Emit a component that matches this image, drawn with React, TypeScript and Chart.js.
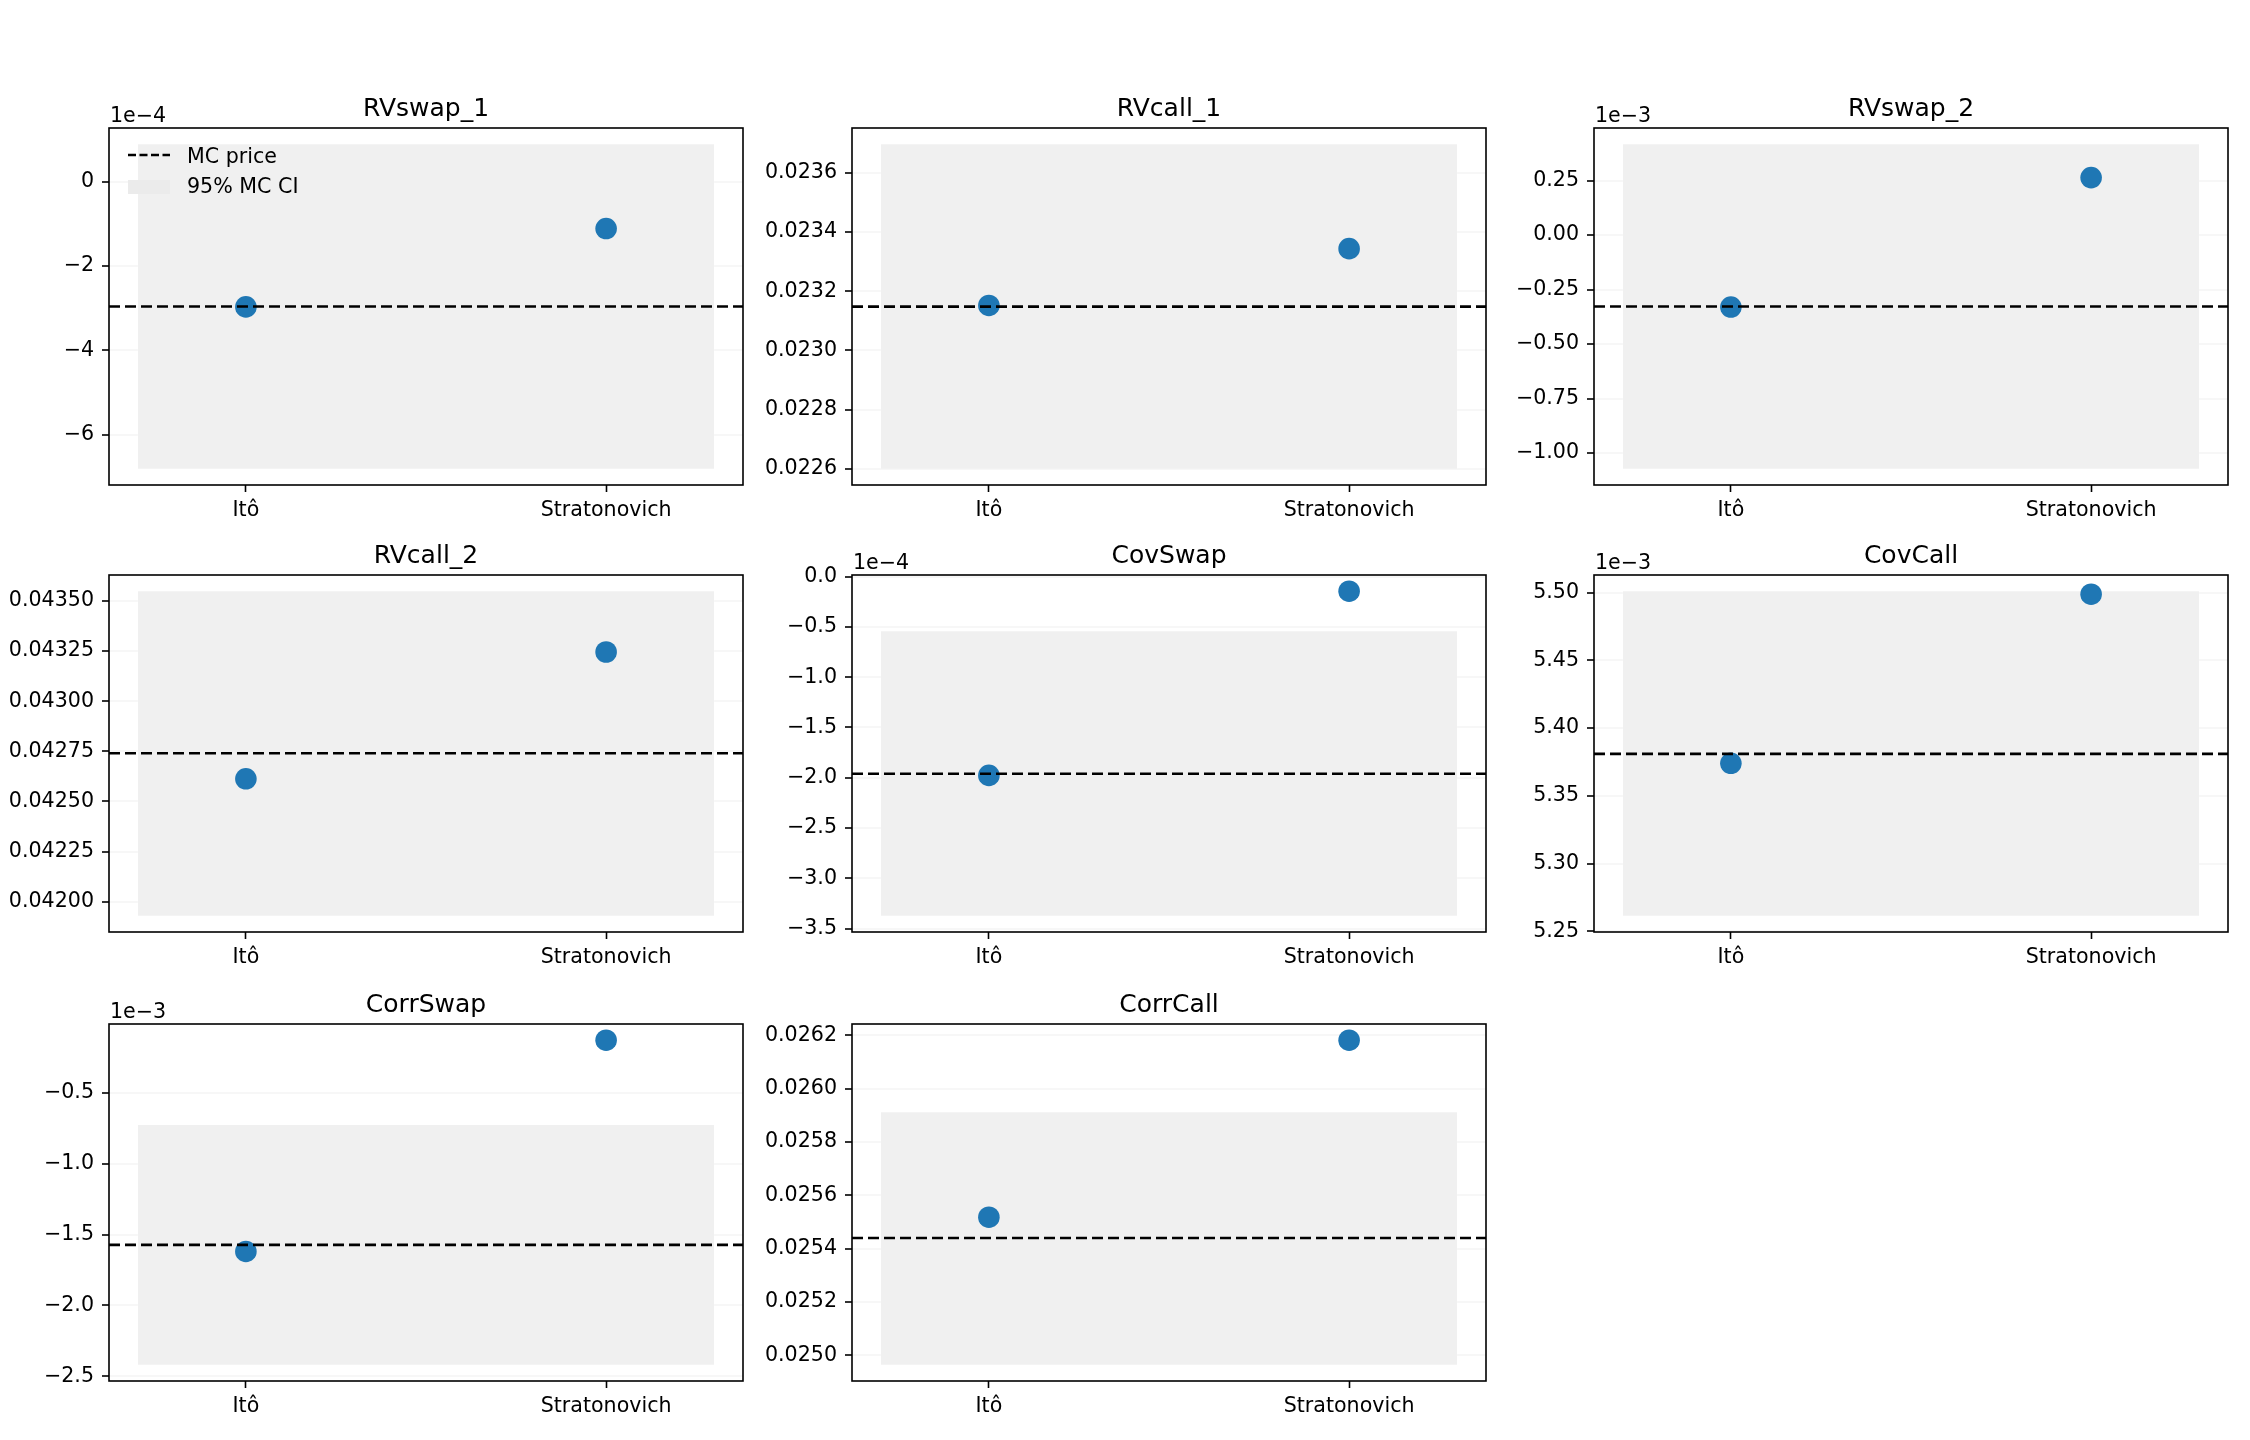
import React, { useEffect, useRef } from 'react';
import { Chart, registerables } from 'chart.js';

Chart.register(...registerables);

// ---------------- data ----------------
const titles = ['RVswap_1', 'RVcall_1', 'RVswap_2', 'RVcall_2', 'CovSwap', 'CovCall', 'CorrSwap', 'CorrCall'];
const categories = ['Itô', 'Stratonovich'];
const categoryX = [0, 1];
const bandX = [-0.3, 1.3];

const itoValues = [-2.97e-4, 0.023152, -0.330e-3, 0.042613, -1.977e-4, 5.374e-3, -1.619e-3, 0.025518];
const stratValues = [-1.11e-4, 0.023344, 0.264e-3, 0.043245, -0.145e-4, 5.4988e-3, -0.130e-3, 0.026181];
const mcPrices = [-2.96e-4, 0.023148, -0.3275e-3, 0.04274, -1.96e-4, 5.381e-3, -1.573e-3, 0.02544];
const ciLow = [-6.81e-4, 0.0226, -1.072e-3, 0.04193, -3.373e-4, 5.2615e-3, -2.418e-3, 0.024965];
const ciHigh = [0.89e-4, 0.023697, 0.417e-3, 0.043548, -0.544e-4, 5.501e-3, -0.728e-3, 0.025911];

const offsetTexts = ['1e\u22124', '', '1e\u22123', '', '1e\u22124', '1e\u22123', '1e\u22123', ''];

const yTickValues = [
  [0, -2e-4, -4e-4, -6e-4],
  [0.0226, 0.0228, 0.023, 0.0232, 0.0234, 0.0236],
  [-1e-3, -0.75e-3, -0.5e-3, -0.25e-3, 0, 0.25e-3],
  [0.042, 0.04225, 0.0425, 0.04275, 0.043, 0.04325, 0.0435],
  [-3.5e-4, -3.0e-4, -2.5e-4, -2.0e-4, -1.5e-4, -1.0e-4, -0.5e-4, 0],
  [5.25e-3, 5.3e-3, 5.35e-3, 5.4e-3, 5.45e-3, 5.5e-3],
  [-2.5e-3, -2.0e-3, -1.5e-3, -1.0e-3, -0.5e-3],
  [0.025, 0.0252, 0.0254, 0.0256, 0.0258, 0.026, 0.0262],
];
const yTickLabels = [
  ['0', '\u22122', '\u22124', '\u22126'],
  ['0.0226', '0.0228', '0.0230', '0.0232', '0.0234', '0.0236'],
  ['\u22121.00', '\u22120.75', '\u22120.50', '\u22120.25', '0.00', '0.25'],
  ['0.04200', '0.04225', '0.04250', '0.04275', '0.04300', '0.04325', '0.04350'],
  ['\u22123.5', '\u22123.0', '\u22122.5', '\u22122.0', '\u22121.5', '\u22121.0', '\u22120.5', '0.0'],
  ['5.25', '5.30', '5.35', '5.40', '5.45', '5.50'],
  ['\u22122.5', '\u22122.0', '\u22121.5', '\u22121.0', '\u22120.5'],
  ['0.0250', '0.0252', '0.0254', '0.0256', '0.0258', '0.0260', '0.0262'],
];
const legendLabels = ['MC price', '95% MC CI'];

// ---------------- layout / style ----------------
const FIG_W = 2250;
const FIG_H = 1440;
const COL_LEFTS = [109, 852, 1594];
const ROW_TOPS = [128, 575, 1024];
const AX_W = 634;
const AX_H = 357;
const PAD_L = 109;
const PAD_T = 60;
const PAD_B = 60;
const PAD_R = 20;
const FONT = '"DejaVu Sans", "Liberation Sans", sans-serif';
const TICK_SIZE = 20.6;
const TITLE_SIZE = 25;
const BAND_COLOR = '#f0f0f0';
const POINT_COLOR = '#1f77b4';

function autoLimits(vals: number[], margin = 0.05): [number, number] {
  const lo = Math.min(...vals);
  const hi = Math.max(...vals);
  const r = hi - lo;
  return [lo - margin * r, hi + margin * r];
}

function Panel({ i }: { i: number }) {
  const ref = useRef<HTMLCanvasElement>(null);
  const col = i % 3;
  const row = Math.floor(i / 3);
  const left = COL_LEFTS[col] - PAD_L;
  const top = ROW_TOPS[row] - PAD_T;
  const w = PAD_L + AX_W + PAD_R;
  const h = PAD_T + AX_H + PAD_B;

  useEffect(() => {
    const [xMin, xMax] = autoLimits(bandX);
    const [yMin, yMax] = autoLimits([ciLow[i], ciHigh[i], itoValues[i], stratValues[i]]);

    const decor = {
      id: 'decor' + i,
      afterDatasetsDraw(chart: any) {
        const { ctx, chartArea: a } = chart;
        ctx.save();
        // frame (all four spines)
        ctx.strokeStyle = '#000';
        ctx.lineWidth = 1.6;
        ctx.setLineDash([]);
        ctx.strokeRect(a.left, a.top, a.right - a.left, a.bottom - a.top);
        // title
        ctx.fillStyle = '#000';
        ctx.font = `${TITLE_SIZE}px ${FONT}`;
        ctx.textAlign = 'center';
        ctx.textBaseline = 'alphabetic';
        ctx.fillText(titles[i], (a.left + a.right) / 2, a.top - 12);
        // offset text
        if (offsetTexts[i]) {
          ctx.font = `${TICK_SIZE}px ${FONT}`;
          ctx.textAlign = 'left';
          ctx.fillText(offsetTexts[i], a.left + 1, a.top - 6);
        }
        // legend (first panel only)
        if (i === 0) {
          ctx.strokeStyle = '#000';
          ctx.lineWidth = 2.6;
          ctx.setLineDash([8, 3.5]);
          ctx.beginPath();
          ctx.moveTo(a.left + 19, a.top + 27);
          ctx.lineTo(a.left + 61, a.top + 27);
          ctx.stroke();
          ctx.setLineDash([]);
          ctx.fillStyle = '#ebebeb';
          ctx.fillRect(a.left + 19, a.top + 52, 42, 14);
          ctx.fillStyle = '#000';
          ctx.font = `${TICK_SIZE}px ${FONT}`;
          ctx.textAlign = 'left';
          ctx.textBaseline = 'alphabetic';
          ctx.fillText(legendLabels[0], a.left + 78, a.top + 35);
          ctx.fillText(legendLabels[1], a.left + 78, a.top + 65);
        }
        ctx.restore();
      },
    };

    const chart = new Chart(ref.current as HTMLCanvasElement, {
      type: 'line',
      data: {
        datasets: [
          {
            label: legendLabels[1],
            data: [
              { x: bandX[0], y: ciHigh[i] },
              { x: bandX[1], y: ciHigh[i] },
            ],
            fill: { value: ciLow[i] },
            backgroundColor: BAND_COLOR,
            borderWidth: 0,
            pointRadius: 0,
            order: 3,
          } as any,
          {
            label: 'points',
            data: [
              { x: categoryX[0], y: itoValues[i] },
              { x: categoryX[1], y: stratValues[i] },
            ],
            showLine: false,
            pointRadius: 10.8,
            pointBackgroundColor: POINT_COLOR,
            pointBorderWidth: 0,
            pointBorderColor: POINT_COLOR,
            order: 2,
          } as any,
          {
            label: legendLabels[0],
            data: [
              { x: xMin, y: mcPrices[i] },
              { x: xMax, y: mcPrices[i] },
            ],
            borderColor: '#000',
            borderWidth: 2.6,
            borderDash: [11, 5],
            pointRadius: 0,
            fill: false,
            order: 1,
          } as any,
        ],
      },
      options: {
        responsive: false,
        animation: false,
        events: [],
        layout: { padding: { left: 0, top: PAD_T, right: PAD_R, bottom: 0 } },
        plugins: {
          legend: { display: false },
          tooltip: { enabled: false },
          title: { display: false },
        },
        scales: {
          x: {
            type: 'linear',
            min: xMin,
            max: xMax,
            bounds: 'data',
            afterBuildTicks: (scale: any) => {
              scale.ticks = categoryX.map((v) => ({ value: v }));
            },
            afterFit: (scale: any) => {
              scale.height = PAD_B;
            },
            ticks: {
              autoSkip: false,
              maxRotation: 0,
              padding: 6,
              color: '#000',
              font: { family: FONT, size: TICK_SIZE },
              callback: (_v: any, idx: number) => categories[idx],
            },
            grid: {
              drawOnChartArea: false,
              drawTicks: true,
              tickLength: 7,
              tickWidth: 1.6,
              tickColor: '#000',
            },
            border: { display: false },
          },
          y: {
            type: 'linear',
            min: yMin,
            max: yMax,
            bounds: 'data',
            afterBuildTicks: (scale: any) => {
              scale.ticks = yTickValues[i].map((v) => ({ value: v }));
            },
            afterFit: (scale: any) => {
              scale.width = PAD_L;
            },
            ticks: {
              autoSkip: false,
              padding: 8,
              color: '#000',
              font: { family: FONT, size: TICK_SIZE },
              callback: (_v: any, idx: number) => yTickLabels[i][idx],
            },
            grid: {
              drawOnChartArea: true,
              color: 'rgba(0,0,0,0.03)',
              lineWidth: 2,
              drawTicks: true,
              tickLength: 7,
              tickWidth: 1.6,
              tickColor: '#000',
            },
            border: { display: false },
          },
        },
      } as any,
      plugins: [decor],
    });
    return () => chart.destroy();
  }, [i]);

  return (
    <canvas
      ref={ref}
      width={w}
      height={h}
      style={{ position: 'absolute', left, top, width: w, height: h }}
    />
  );
}

export default function App() {
  return (
    <div
      style={{
        position: 'absolute',
        left: 0,
        top: 0,
        width: FIG_W,
        height: FIG_H,
        background: '#fff',
        overflow: 'hidden',
      }}
    >
      {titles.map((_t, i) => (
        <Panel key={i} i={i} />
      ))}
    </div>
  );
}
